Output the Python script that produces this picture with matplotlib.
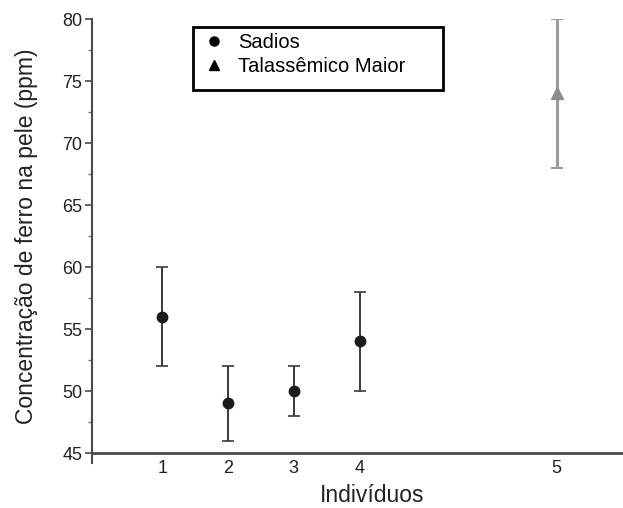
import matplotlib.pyplot as plt
from matplotlib.lines import Line2D
from matplotlib.patches import Rectangle
from matplotlib.ticker import MultipleLocator

plt.rcParams['font.family'] = ['Liberation Sans', 'DejaVu Sans']

# data
labels = ['1', '2', '3', '4', '5']
sadios_mean = [56, 49, 50, 54]
sadios_low = [52, 46, 48, 50]
sadios_high = [60, 52, 52, 58]
tal_mean = [74]
tal_low = [68]
tal_high = [80]

# individual 5 sits further right on the axis
xpos = [1, 2, 3, 4, 7]

W, H = 623, 508
fig = plt.figure(figsize=(W / 100, H / 100), dpi=100)
# axes runs past the right edge of the figure, like the cropped original
ax = fig.add_axes([92 / W, (H - 453) / H, 560 / W, 434 / H])

s_err = [[m - l for m, l in zip(sadios_mean, sadios_low)],
         [h - m for m, h in zip(sadios_mean, sadios_high)]]
t_err = [[m - l for m, l in zip(tal_mean, tal_low)],
         [h - m for m, h in zip(tal_mean, tal_high)]]

ax.errorbar(xpos[:4], sadios_mean, yerr=s_err, fmt='o', color='#1c1c1c',
            ecolor='#3a3a3a', markersize=7.5, capsize=4.5, elinewidth=1.4,
            capthick=1.2)
ax.errorbar(xpos[4:], tal_mean, yerr=t_err, fmt='^', color='#8e8e8e',
            ecolor='#9c9c9c', markersize=8, capsize=4.5, elinewidth=2.2,
            capthick=1.5)

ax.set_xlim(-0.07, 8.45)
ax.set_ylim(45, 80)
ax.set_xticks(xpos)
ax.set_xticklabels(labels)
ax.yaxis.set_major_locator(MultipleLocator(5))
ax.yaxis.set_minor_locator(MultipleLocator(2.5))

for side in ['top', 'right']:
    ax.spines[side].set_visible(False)
ax.spines['left'].set_color('#4a4a4a')
ax.spines['bottom'].set_color('#4a4a4a')
ax.spines['bottom'].set_linewidth(2)
ax.spines['left'].set_linewidth(1.5)
ax.spines['left'].set_bounds(44.2, 80)

ax.tick_params(axis='x', length=0, pad=5, labelsize=13, colors='#222222')
ax.tick_params(axis='y', which='major', length=5, width=1.2, pad=2,
               labelsize=13, colors='#4a4a4a', labelcolor='#222222')
ax.tick_params(axis='y', which='minor', length=3, width=1, colors='#777777')

ax.set_xlabel('Indivíduos', fontsize=16.5, color='#222222', labelpad=5)
ax.set_ylabel('Concentração de ferro na pele (ppm)', fontsize=16.5,
              color='#222222', labelpad=17)

# legend with a hand drawn frame
handles = [Line2D([], [], marker='o', linestyle='none', color='black',
                  markersize=6.5),
           Line2D([], [], marker='^', linestyle='none', color='black',
                  markersize=6.5)]
fig.legend(handles, ['Sadios', 'Talassêmico Maior'], loc='upper left',
           bbox_to_anchor=(204 / W, 1 - 33 / H), frameon=False, fontsize=14.5,
           borderpad=0, borderaxespad=0, handlelength=1.0, handletextpad=0.7,
           labelspacing=0.25)
fig.add_artist(Rectangle((193 / W, (H - 90) / H), 250 / W, 63 / H,
                         transform=fig.transFigure, fill=False,
                         edgecolor='black', linewidth=2))

fig.savefig('out.png', dpi=100)
